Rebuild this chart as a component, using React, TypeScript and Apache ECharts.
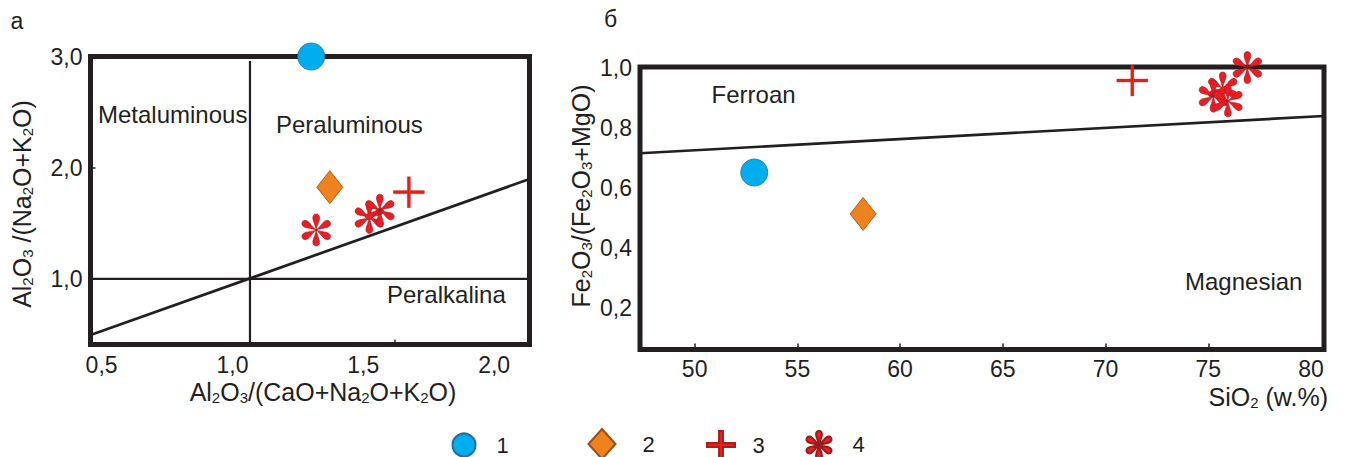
import React, { useEffect, useRef } from 'react';
import * as echarts from 'echarts';

const FONT = '"Liberation Sans", Arial, Helvetica, sans-serif';
const INK = '#231f20';

// ---------- Panel a: A/CNK vs A/NK ----------
const acnkLabels = [0.5, 1.0, 1.5, 2.0];
const ankLabels = [1.0, 2.0, 3.0];
const acnkTickMarks = [1.621];
const ankTickMarks = [2.0];
const leftGroup1 = [[1.301, 3.0]];
const leftGroup2 = [[1.372, 1.825]];
const leftGroup3 = [[1.674, 1.78]];
const leftGroup4 = [[1.32, 1.44], [1.523, 1.552], [1.563, 1.618]];
const metaPeraBoundary = [[1.067, 0.41], [1.067, 2.96]];
const peralkBoundary = [[0.4577, 1.0], [2.135, 1.0]];
const diagBoundary = [[0.4577, 0.495], [2.135, 1.898]];

// ---------- Panel b: SiO2 vs Fe2O3/(Fe2O3+MgO) ----------
const sio2Labels = [50, 55, 60, 65, 70, 75, 80];
const sio2TickMarks = [50, 55, 60, 65, 70, 75];
const feLabels = [0.2, 0.4, 0.6, 0.8, 1.0];
const rightGroup1 = [[52.9, 0.651]];
const rightGroup2 = [[58.2, 0.513]];
const rightGroup3 = [[71.3, 0.957]];
const rightGroup4 = [[76.9, 1.0], [75.7, 0.932], [75.25, 0.905], [75.95, 0.889]];
const ferroanBoundary = [[47.34, 0.715], [80.63, 0.839]];

const legendNames = ['1', '2', '3', '4'];

function asteriskPath(): string {
  const c = 50;
  const local = [[0, 0], [18, -3], [27, -10], [37, -10.5], [45, -11], [50, -6.5], [50, 0], [50, 6.5], [45, 11], [37, 10.5], [27, 10], [18, 3], [0, 0]];
  let d = '';
  for (const deg of [90, 30, -30, -90, -150, 150]) {
    const t = (deg * Math.PI) / 180;
    const dx = Math.cos(t);
    const dy = -Math.sin(t);
    const nx = -dy;
    const ny = dx;
    const pt = (p: number[]) => `${(c + p[0] * dx + p[1] * nx).toFixed(2)},${(c + p[0] * dy + p[1] * ny).toFixed(2)}`;
    d += `M${pt(local[0])} C${pt(local[1])} ${pt(local[2])} ${pt(local[3])} C${pt(local[4])} ${pt(local[5])} ${pt(local[6])} C${pt(local[7])} ${pt(local[8])} ${pt(local[9])} C${pt(local[10])} ${pt(local[11])} ${pt(local[12])} Z `;
  }
  return 'path://' + d;
}

const ASTER = asteriskPath();
const PLUS = 'path://M45,0H55V45H100V55H55V100H45V55H0V45H45Z';
const PLUS_BOLD = 'path://M43,0H57V43H100V57H57V100H43V57H0V43H43Z';

const styles: any = {
  '1': { symbol: 'circle', symbolSize: 27, itemStyle: { opacity: 1, color: '#00aeef', borderColor: '#1c6f96', borderWidth: 0.8 } },
  '2': { symbol: 'diamond', symbolSize: [26, 33], itemStyle: { opacity: 1, color: '#f0821e', borderColor: '#9a4e12', borderWidth: 0.8 } },
  '3': { symbol: PLUS, symbolSize: 31, itemStyle: { opacity: 1, color: '#e2231a', borderColor: '#b01c1c', borderWidth: 0.3 } },
  '4': { symbol: ASTER, symbolSize: 32, symbolKeepAspect: true, itemStyle: { opacity: 1, color: '#ec1c24', borderColor: '#9a1c1c', borderWidth: 0.6 } },
};

function scatter(name: string, idx: number, data: number[][]) {
  return {
    type: 'scatter',
    name,
    xAxisIndex: idx,
    yAxisIndex: idx,
    data,
    clip: false,
    z: 5,
    silent: true,
    emphasis: { disabled: true },
    ...styles[name],
  };
}

function boundary(idx: number, data: number[][], width = 2.5) {
  return {
    type: 'line',
    xAxisIndex: idx,
    yAxisIndex: idx,
    data,
    symbol: 'none',
    silent: true,
    z: 3,
    lineStyle: { color: INK, width },
  };
}

const commaFmt = (v: number) => v.toFixed(1).replace('.', ',');
const tickText = { fontSize: 23, fontFamily: FONT, color: INK };

function chem(s: string): string {
  return s
    .split(/(_\d)/)
    .filter(Boolean)
    .map((t) => (t.startsWith('_') ? `{s|${t.slice(1)}}` : `{m|${t}}`))
    .join('');
}

const chemRich = {
  m: { fontSize: 25, fontFamily: FONT, fill: INK, lineHeight: 25, padding: [0, 0, 3, 0], verticalAlign: 'top' },
  s: { fontSize: 15, fontFamily: FONT, fill: INK, lineHeight: 15, verticalAlign: 'bottom' },
};

function chemTitle(text: string, x: number, y: number, align: string, rotation = 0) {
  return {
    type: 'text',
    x,
    y,
    rotation,
    silent: true,
    style: { text: chem(text), rich: chemRich, align, verticalAlign: 'middle', fill: INK },
  };
}

function plainText(text: string, x: number, y: number, size = 24, align = 'left') {
  return {
    type: 'text',
    x,
    y,
    silent: true,
    style: { text, fill: INK, fontSize: size, fontFamily: FONT, align, verticalAlign: 'middle' },
  };
}

const legendText = { fontSize: 22, lineHeight: 18, fontFamily: FONT, color: INK };

function legendItem(name: string, left: number, top: number, w: number, h: number, gap: number, icon?: string) {
  return {
    data: [icon ? { name, icon } : { name }],
    left,
    top,
    padding: 0,
    itemWidth: w,
    itemHeight: h,
    selectedMode: false,
    textStyle: { ...legendText, padding: [0, 0, 0, gap] },
  };
}

const option: any = {
  animation: false,
  backgroundColor: '#ffffff',
  grid: [
    { left: 90.5, top: 56.5, width: 439, height: 288, show: true, borderWidth: 5, borderColor: INK, backgroundColor: 'transparent' },
    { left: 640, top: 67, width: 684, height: 282.5, show: true, borderWidth: 5, borderColor: INK, backgroundColor: 'transparent' },
  ],
  xAxis: [
    {
      gridIndex: 0,
      type: 'value',
      min: 0.4577,
      max: 2.135,
      axisLine: { show: false },
      splitLine: { show: false },
      axisTick: { show: true, inside: true, length: 5, customValues: acnkTickMarks, lineStyle: { color: INK, width: 1.5 } },
      axisLabel: { customValues: acnkLabels, formatter: commaFmt, margin: 9, ...tickText },
    },
    {
      gridIndex: 1,
      type: 'value',
      min: 47.34,
      max: 80.63,
      axisLine: { show: false },
      splitLine: { show: false },
      axisTick: { show: true, inside: true, length: 6, customValues: sio2TickMarks, lineStyle: { color: INK, width: 1.5 } },
      axisLabel: { customValues: sio2Labels, formatter: (v: number) => String(v), margin: 8, ...tickText },
    },
  ],
  yAxis: [
    {
      gridIndex: 0,
      type: 'value',
      min: 0.41,
      max: 3.0,
      axisLine: { show: false },
      splitLine: { show: false },
      axisTick: { show: true, inside: true, length: 5, customValues: ankTickMarks, lineStyle: { color: INK, width: 1.5 } },
      axisLabel: { customValues: ankLabels, formatter: commaFmt, margin: 8, ...tickText },
    },
    {
      gridIndex: 1,
      type: 'value',
      min: 0.062,
      max: 1.002,
      axisLine: { show: false },
      splitLine: { show: false },
      axisTick: { show: false },
      axisLabel: { customValues: feLabels, formatter: commaFmt, margin: 8, ...tickText },
    },
  ],
  legend: [
    legendItem(legendNames[0], 451.5, 432.5, 23, 23, 16),
    legendItem(legendNames[1], 587.5, 428, 27, 30, 22),
    legendItem(legendNames[2], 706, 430, 28, 28, 12.6, PLUS_BOLD),
    legendItem(legendNames[3], 805.5, 430, 25, 28, 16),
  ],
  series: [
    boundary(0, metaPeraBoundary, 2.2),
    boundary(0, peralkBoundary, 2.2),
    boundary(0, diagBoundary, 2.7),
    boundary(1, ferroanBoundary, 2.7),
    scatter('1', 0, leftGroup1),
    scatter('2', 0, leftGroup2),
    scatter('3', 0, leftGroup3),
    scatter('4', 0, leftGroup4),
    scatter('1', 1, rightGroup1),
    scatter('2', 1, rightGroup2),
    scatter('3', 1, rightGroup3),
    scatter('4', 1, rightGroup4),
  ],
  graphic: [
    plainText('а', 17, 21, 23, 'center'),
    plainText('б', 610.6, 19, 23, 'center'),
    plainText('Metaluminous', 98, 114),
    plainText('Peraluminous', 276, 124.6),
    plainText('Peralkalina', 387, 294.7),
    plainText('Ferroan', 711.6, 94),
    plainText('Magnesian', 1185, 281),
    chemTitle('Al_2O_3/(CaO+Na_2O+K_2O)', 323, 392, 'center'),
    chemTitle('Al_2O_3 /(Na_2O+K_2O)', 22.4, 204, 'center', Math.PI / 2),
    chemTitle('Fe_2O_3/(Fe_2O_3+MgO)', 581, 196, 'center', Math.PI / 2),
    chemTitle('SiO_2 (w.%)', 1328, 397, 'right'),
  ],
};

export default function App() {
  const ref = useRef<HTMLDivElement>(null);
  useEffect(() => {
    if (!ref.current) return;
    const chart = echarts.init(ref.current, undefined, { renderer: 'svg' });
    chart.setOption(option);
    return () => chart.dispose();
  }, []);
  return (
    <div
      ref={ref}
      style={{ position: 'fixed', left: 0, top: 0, width: 1346, height: 457, background: '#ffffff' }}
    />
  );
}
